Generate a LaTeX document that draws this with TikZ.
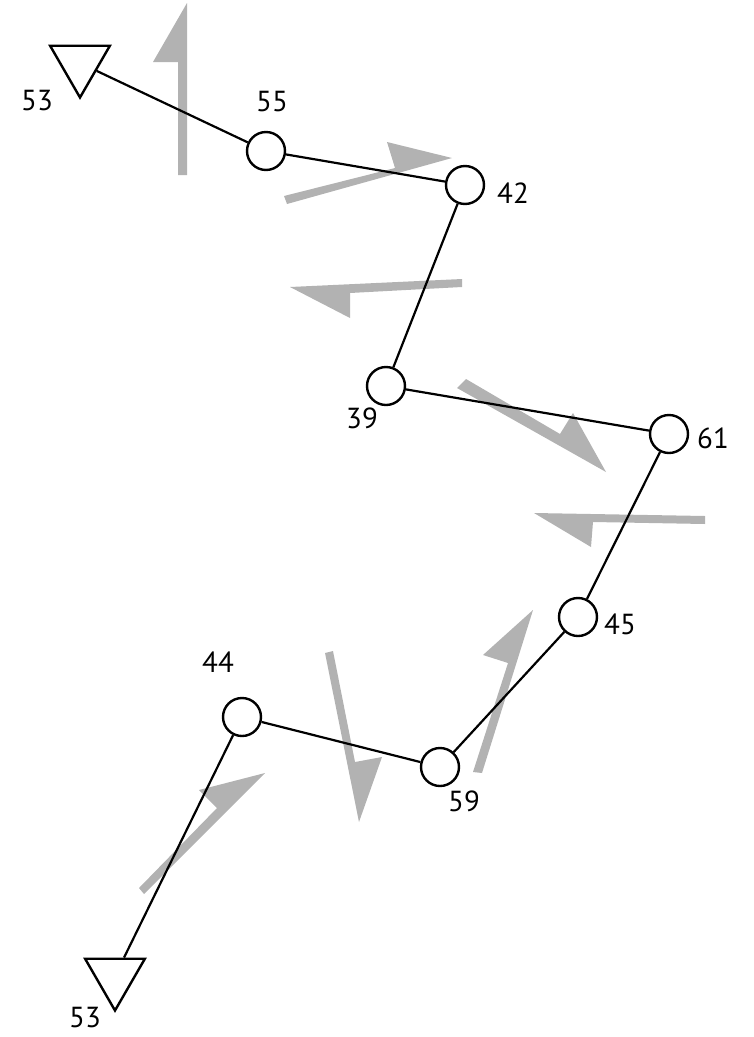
\documentclass[tikz,border=0pt]{standalone}
\usepackage{fontspec}
\setmainfont{PT Sans}
\usetikzlibrary{shapes.geometric}
\definecolor{arrowgray}{RGB}{178,178,178}
\tikzset{
  station/.style={circle, draw=black, line width=2.4pt, fill=white, minimum size=38pt, inner sep=0pt},
  endtri/.style={regular polygon, regular polygon sides=3, shape border rotate=180, draw=black, line width=2.4pt, fill=white, minimum size=69pt, inner sep=0pt},
  lab/.style={font=\fontsize{29}{31}\selectfont, inner sep=0pt},
  link/.style={draw=black, line width=2.2pt},
  halfarrow/.style={fill=arrowgray, draw=none}
}
\begin{document}
\begin{tikzpicture}[x=1pt,y=-1pt]
\useasboundingbox (0,0) rectangle (753,1037);
% gray half arrows
\fill[halfarrow] (178,175) -- (178,62) -- (153,62) -- (187,3) -- (187,175) -- cycle;
\fill[halfarrow] (287,204) -- (452,158) -- (387,142) -- (395,168) -- (284,196) -- cycle;
\fill[halfarrow] (462,279) -- (290,287) -- (350,318) -- (350,293) -- (462,287) -- cycle;
\fill[halfarrow] (466,379) -- (560,434) -- (573,413) -- (606,472) -- (457,388) -- cycle;
\fill[halfarrow] (705,516) -- (534,513) -- (591,547) -- (593,522) -- (705,524) -- cycle;
\fill[halfarrow] (473,772) -- (508,663) -- (483,655) -- (533,610) -- (482,773) -- cycle;
\fill[halfarrow] (325,653) -- (359,822) -- (382,757) -- (355,762) -- (333,651) -- cycle;
\fill[halfarrow] (139,888) -- (217,808) -- (199,790) -- (265,773) -- (144,894) -- cycle;
% nodes
\node[endtri] (t1) at (80,63) {};
\node[station] (n55) at (266,151) {};
\node[station] (n42) at (465,185) {};
\node[station] (n39) at (386,386) {};
\node[station] (n61) at (669,434) {};
\node[station] (n45) at (578,617) {};
\node[station] (n59) at (440,767) {};
\node[station] (n44) at (242,717) {};
\node[endtri] (t2) at (115,976) {};
% links
\draw[link] (t1) -- (n55) -- (n42) -- (n39) -- (n61) -- (n45) -- (n59) -- (n44) -- (t2);
% labels
\node[lab] (l53a) at (37,101) {53};
\node[lab] (l55) at (272,102) {55};
\node[lab] (l42) at (513,193) {42};
\node[lab] (l39) at (362,418) {39};
\node[lab] (l61) at (713,438) {61};
\node[lab] (l45) at (620,624) {45};
\node[lab] (l44) at (218,662) {44};
\node[lab] (l59) at (464,801) {59};
\node[lab] (l53b) at (85,1018) {53};
\end{tikzpicture}
\end{document}
